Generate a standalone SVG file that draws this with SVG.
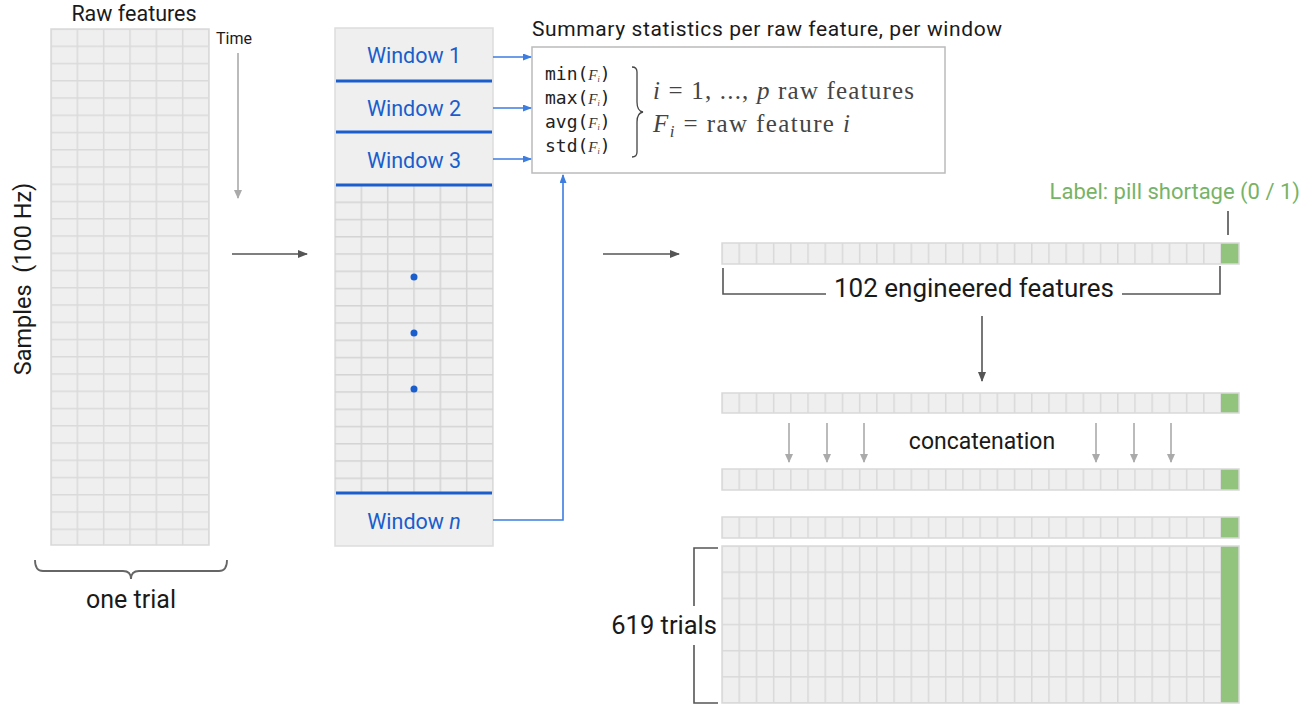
<svg xmlns="http://www.w3.org/2000/svg" width="1314" height="707" viewBox="0 0 1314 707">
<style>
.t{font-family:Roboto,"Liberation Sans",sans-serif;fill:#1a1a1a}
.win{font-family:Roboto,"Liberation Sans",sans-serif;fill:#1a5dcc;font-size:21.5px;text-anchor:middle}
.mono{font-family:"DejaVu Sans Mono","Liberation Mono",monospace;font-size:18px;fill:#222}
.fi{font-family:"Liberation Serif","DejaVu Serif",serif;font-style:italic;fill:#333}
.math{font-family:"Liberation Serif","DejaVu Serif",serif;font-size:25px;fill:#444}
.it{font-style:italic}
.dark{stroke:#555;stroke-width:1.6;fill:none}
.light{stroke:#aaa;stroke-width:1.6;fill:none}
.blue{stroke:#3d7de0;stroke-width:1.6;fill:none}
.wline{stroke:#1a5dcc;stroke-width:3}
.border{fill:none;stroke:#d9d9d9;stroke-width:1.5}
.green{fill:#93c47d}
</style>
<defs>
<marker id="aDark" markerUnits="userSpaceOnUse" markerWidth="10" markerHeight="8" refX="9" refY="4" orient="auto"><path d="M0,0 L10,4 L0,8 z" fill="#555"/></marker>
<marker id="aLight" markerUnits="userSpaceOnUse" markerWidth="9" markerHeight="8" refX="8" refY="4" orient="auto"><path d="M0,0 L9,4 L0,8 z" fill="#aaa"/></marker>
<marker id="aBlue" markerUnits="userSpaceOnUse" markerWidth="9" markerHeight="7" refX="8" refY="3.5" orient="auto"><path d="M0,0 L9,3.5 L0,7 z" fill="#3d7de0"/></marker>
<pattern id="leftGrid" patternUnits="userSpaceOnUse" x="50.25" y="28.25" width="26.33" height="17.25"><rect width="26.33" height="17.25" fill="#efefef"/><rect width="1.5" height="17.25" fill="#dadada"/><rect width="26.33" height="1.5" fill="#dadada"/></pattern>
<pattern id="midGrid" patternUnits="userSpaceOnUse" x="334.25" y="184.25" width="26.33" height="17.25"><rect width="26.33" height="17.25" fill="#efefef"/><rect width="1.5" height="17.25" fill="#d4d4d4"/><rect width="26.33" height="1.5" fill="#d4d4d4"/></pattern>
<pattern id="vcols" patternUnits="userSpaceOnUse" x="721.25" y="0" width="17.207" height="10"><rect width="17.207" height="10" fill="#efefef"/><rect width="1.5" height="10" fill="#d9d9d9"/></pattern>
<pattern id="matGrid" patternUnits="userSpaceOnUse" x="721.25" y="545.25" width="17.207" height="26.17"><rect width="17.207" height="26.17" fill="#efefef"/><rect width="1.5" height="26.17" fill="#d9d9d9"/><rect width="17.207" height="1.5" fill="#d9d9d9"/></pattern>
</defs>

<g id="raw-features">
<text class="t" x="134" y="21" font-size="21.5" text-anchor="middle">Raw features</text>
<rect x="51" y="29" width="158" height="516" fill="url(#leftGrid)"/>
<rect class="border" x="51" y="29" width="158" height="516"/>
<text class="t" x="216" y="44" font-size="16">Time</text>
<text class="t" font-size="23.5" text-anchor="middle" transform="translate(31,279) rotate(-90)" xml:space="preserve">Samples  (100 Hz)</text>
<path d="M35,560 q0,11 8,11 h80 q8,0 8,8 q0,-8 8,-8 h80 q8,0 8,-11" fill="none" stroke="#666" stroke-width="1.8"/>
<text class="t" x="131" y="608" font-size="25" text-anchor="middle">one trial</text>
</g>

<g id="windows">
<rect x="335" y="28" width="158" height="518" fill="#efefef" stroke="#dddddd" stroke-width="1.5"/>
<rect x="335" y="185" width="158" height="308" fill="url(#midGrid)"/>
<line class="wline" x1="336" y1="81" x2="492" y2="81"/>
<line class="wline" x1="336" y1="132" x2="492" y2="132"/>
<line class="wline" x1="336" y1="185" x2="492" y2="185"/>
<line class="wline" x1="336" y1="493" x2="492" y2="493"/>
<text class="win" x="414" y="63">Window 1</text>
<text class="win" x="414" y="116">Window 2</text>
<text class="win" x="414" y="168">Window 3</text>
<text class="win" x="414" y="529">Window <tspan font-style="italic">n</tspan></text>
<circle cx="414" cy="277" r="3.5" fill="#1a5dcc"/>
<circle cx="414" cy="333" r="3.5" fill="#1a5dcc"/>
<circle cx="414" cy="389" r="3.5" fill="#1a5dcc"/>
</g>

<g id="summary">
<text class="t" x="532" y="36" font-size="21" textLength="470" lengthAdjust="spacing">Summary statistics per raw feature, per window</text>
<rect x="532" y="47" width="413" height="126" fill="#fff" stroke="#bbb" stroke-width="1.5"/>
<text class="mono" x="545" y="80">min(<tspan class="fi" font-size="15">F</tspan><tspan class="fi" font-size="8" dy="2">i</tspan><tspan dy="-2">)</tspan></text>
<text class="mono" x="545" y="104">max(<tspan class="fi" font-size="15">F</tspan><tspan class="fi" font-size="8" dy="2">i</tspan><tspan dy="-2">)</tspan></text>
<text class="mono" x="545" y="128">avg(<tspan class="fi" font-size="15">F</tspan><tspan class="fi" font-size="8" dy="2">i</tspan><tspan dy="-2">)</tspan></text>
<text class="mono" x="545" y="152">std(<tspan class="fi" font-size="15">F</tspan><tspan class="fi" font-size="8" dy="2">i</tspan><tspan dy="-2">)</tspan></text>
<path d="M632,67 q5,0 5,5 v30 q0,9 6,10 q-6,1 -6,10 v30 q0,5 -5,5" fill="none" stroke="#444" stroke-width="1.3"/>
<text class="math" x="653" y="99" xml:space="preserve" textLength="261" lengthAdjust="spacing"><tspan class="it">i</tspan> = 1, ..., <tspan class="it">p</tspan> raw features</text>
<text class="math" x="653" y="132" xml:space="preserve" textLength="197" lengthAdjust="spacing"><tspan class="it">F</tspan><tspan class="it" font-size="17" dy="5">i</tspan><tspan dy="-5"> = raw feature </tspan><tspan class="it">i</tspan></text>
</g>

<g id="feature-vector">
<text x="1300" y="199" font-family="Roboto, 'Liberation Sans', sans-serif" font-size="22" fill="#77b366" text-anchor="end">Label: pill shortage (0 / 1)</text>
<line x1="1228" y1="211" x2="1228" y2="235" stroke="#444" stroke-width="1.5"/>
<rect x="722" y="243" width="499" height="21" fill="url(#vcols)"/>
<rect class="green" x="1221" y="243" width="18" height="21"/>
<rect class="border" x="722" y="243" width="517" height="21"/>
<path class="dark" d="M723,268 V294 H826 M1122,294 H1220 V266"/>
<text class="t" x="834" y="297" font-size="26">102 engineered features</text>
</g>

<g id="stacked-vectors">
<rect x="722" y="393" width="499" height="20" fill="url(#vcols)"/>
<rect class="green" x="1221" y="393" width="18" height="20"/>
<rect class="border" x="722" y="393" width="517" height="20"/>
<rect x="722" y="469" width="499" height="21" fill="url(#vcols)"/>
<rect class="green" x="1221" y="469" width="18" height="21"/>
<rect class="border" x="722" y="469" width="517" height="21"/>
<text class="t" x="982" y="449" font-size="23" text-anchor="middle">concatenation</text>
</g>

<g id="dataset">
<rect x="722" y="517" width="499" height="21" fill="url(#vcols)"/>
<rect class="green" x="1221" y="517" width="18" height="21"/>
<rect class="border" x="722" y="517" width="517" height="21"/>
<rect x="722" y="546" width="499" height="157" fill="url(#matGrid)"/>
<rect class="green" x="1221" y="546" width="18" height="157"/>
<rect class="border" x="722" y="546" width="517" height="157"/>
<path class="dark" d="M718,548 H694 V606 M694,645 V703 H718"/>
<text class="t" x="717" y="634" font-size="25.5" text-anchor="end">619 trials</text>
</g>

<g id="connectors">
<line class="light" x1="238" y1="53" x2="238" y2="198" marker-end="url(#aLight)"/>
<line class="dark" x1="232" y1="254" x2="307" y2="254" marker-end="url(#aDark)"/>
<line class="dark" x1="603" y1="254" x2="679" y2="254" marker-end="url(#aDark)"/>
<line class="blue" x1="493" y1="57" x2="531" y2="57" marker-end="url(#aBlue)"/>
<line class="blue" x1="493" y1="108" x2="531" y2="108" marker-end="url(#aBlue)"/>
<line class="blue" x1="493" y1="159" x2="531" y2="159" marker-end="url(#aBlue)"/>
<path class="blue" d="M493,520 H563 V175" marker-end="url(#aBlue)"/>
<line class="dark" x1="982" y1="316" x2="982" y2="381" marker-end="url(#aDark)"/>
<line class="light" x1="789" y1="423" x2="789" y2="462" marker-end="url(#aLight)"/>
<line class="light" x1="827" y1="423" x2="827" y2="462" marker-end="url(#aLight)"/>
<line class="light" x1="864" y1="423" x2="864" y2="462" marker-end="url(#aLight)"/>
<line class="light" x1="1096" y1="423" x2="1096" y2="462" marker-end="url(#aLight)"/>
<line class="light" x1="1134" y1="423" x2="1134" y2="462" marker-end="url(#aLight)"/>
<line class="light" x1="1171" y1="423" x2="1171" y2="462" marker-end="url(#aLight)"/>
</g>
</svg>
